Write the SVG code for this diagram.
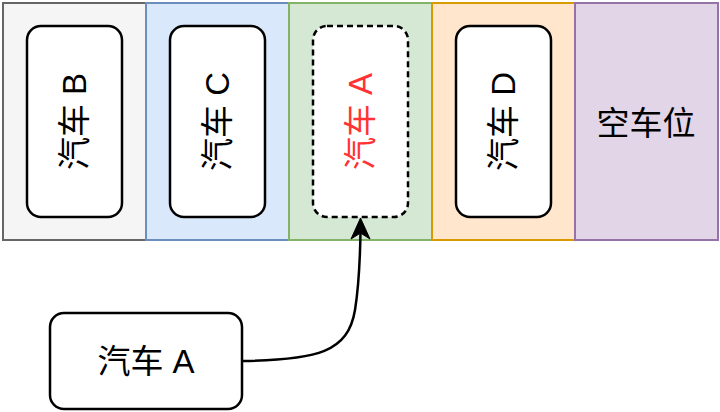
<svg xmlns="http://www.w3.org/2000/svg" width="720" height="412" viewBox="0 0 720 412">
<style>
.col{stroke-width:2}
.car{fill:#ffffff;stroke:#000000;stroke-width:2.5}
.t{font-family:"Liberation Sans","Noto Sans CJK SC",sans-serif;font-size:33px;fill:#000000;text-anchor:middle;dominant-baseline:central}
.edge{fill:none;stroke:#000000;stroke-width:2.5}
</style>
<rect width="720" height="412" fill="#ffffff"/>
<g id="slot1"><rect class="col" x="3" y="3" width="143" height="237" fill="#f5f5f5" stroke="#666666"/></g>
<g id="slot2"><rect class="col" x="146" y="3" width="143" height="237" fill="#dae8fc" stroke="#6c8ebf"/></g>
<g id="slot3"><rect class="col" x="289" y="3" width="143" height="237" fill="#d5e8d4" stroke="#82b366"/></g>
<g id="slot4"><rect class="col" x="432" y="3" width="143" height="237" fill="#ffe6cc" stroke="#d79b00"/></g>
<g id="slot5"><rect class="col" x="575" y="3" width="143" height="237" fill="#e1d5e7" stroke="#9673a6"/>
<text class="t" x="646" y="123">空车位</text></g>
<g id="carB"><rect class="car" x="27" y="26" width="95" height="191" rx="14"/>
<text class="t" transform="translate(74.5,121.5) rotate(-90)">汽车 B</text></g>
<g id="carC"><rect class="car" x="170" y="26" width="95" height="191" rx="14"/>
<text class="t" transform="translate(217.5,121.5) rotate(-90)">汽车 C</text></g>
<g id="carAslot"><rect class="car" x="313" y="26" width="95" height="191" rx="14" stroke-dasharray="6 4"/>
<text class="t" transform="translate(360.5,121.5) rotate(-90)" style="fill:#ff3333">汽车 A</text></g>
<g id="carD"><rect class="car" x="456" y="26" width="95" height="191" rx="14"/>
<text class="t" transform="translate(503.5,121.5) rotate(-90)">汽车 D</text></g>
<g id="carA"><rect class="car" x="50" y="313" width="192" height="96" rx="14"/>
<text class="t" x="146" y="361">汽车 A</text></g>
<g id="connectors">
<path class="edge" d="M242,361 C318,360 348,352 355,310 C359,285 360,262 360.5,232"/>
<path d="M360.5,218 L370,239 L360.5,233 L351,239 Z" fill="#000000" stroke="#000000" stroke-width="1"/>
</g>
</svg>
